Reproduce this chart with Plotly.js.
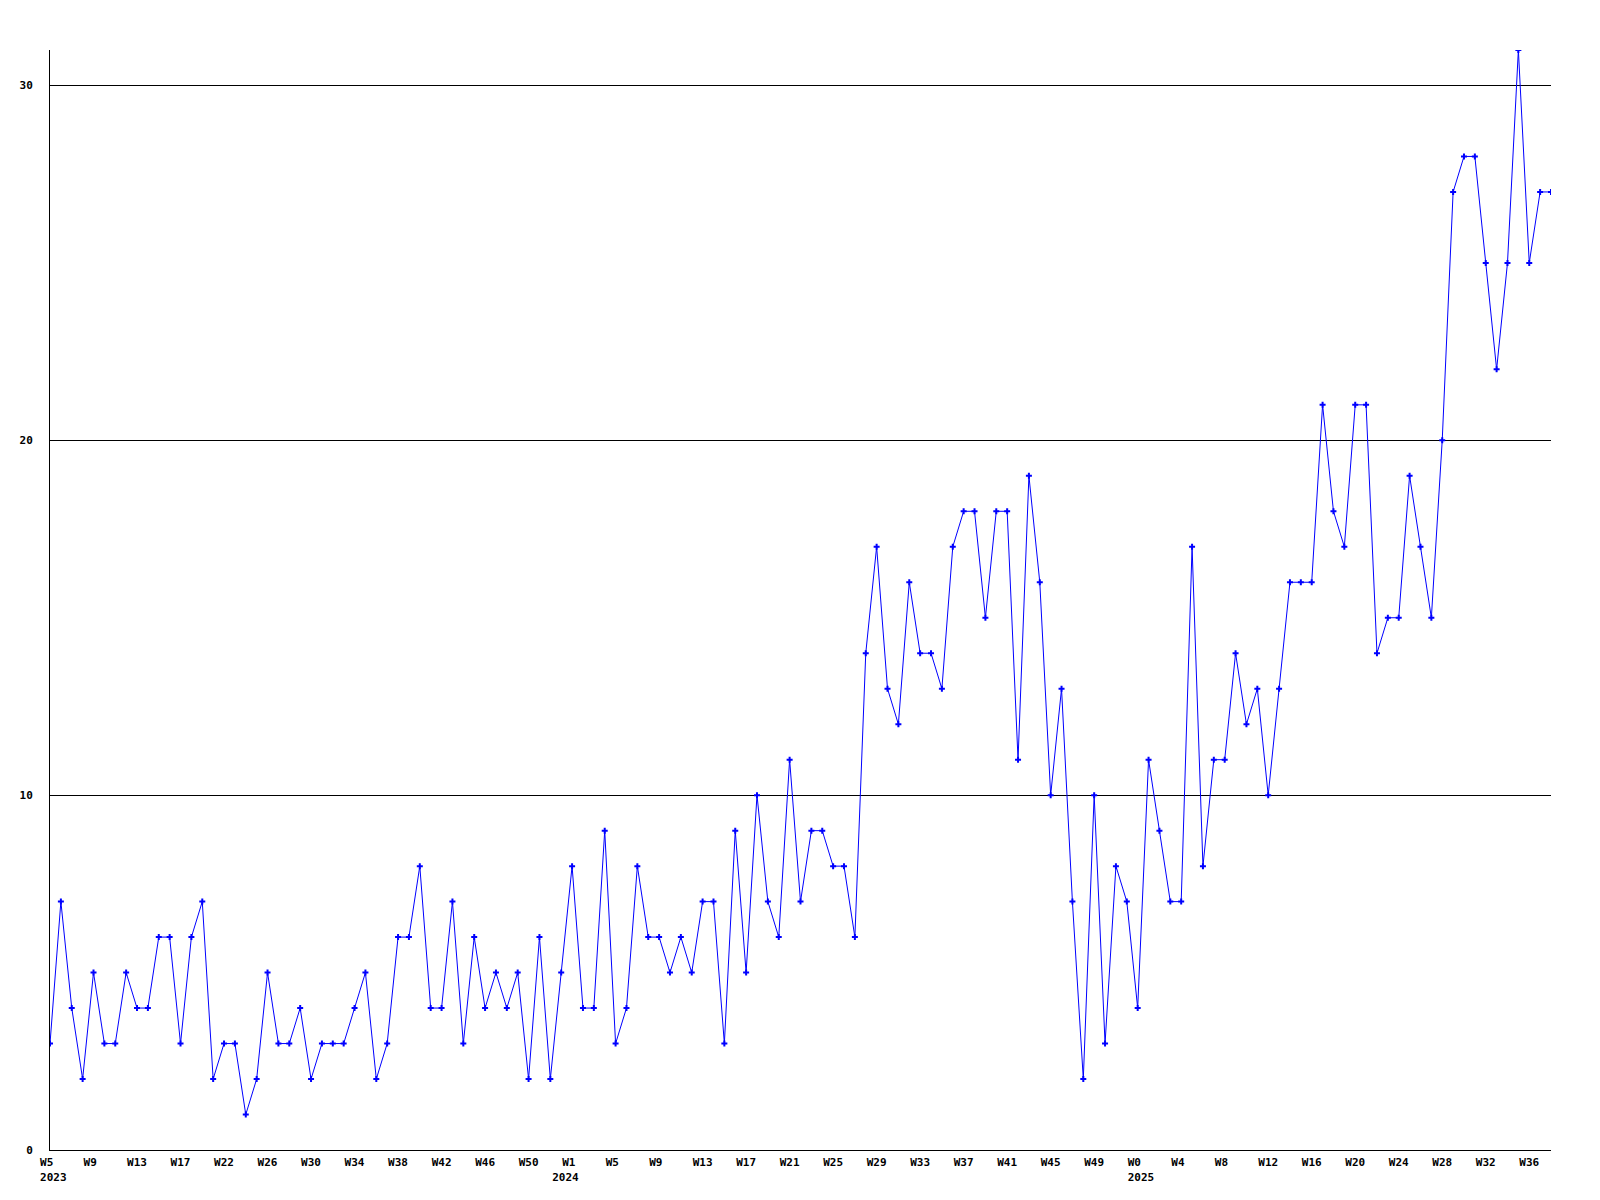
<!DOCTYPE html>
<html>
<head>
<meta charset="utf-8">
<script src="https://cdn.plot.ly/plotly-3.0.1.min.js"></script>
<style>
html,body{margin:0;padding:0;background:#fff;}
#chart{width:1600px;height:1200px;}
</style>
</head>
<body>
<div id="chart"></div>
<script>
// Weekly counts, one per week, from 2023 W5 to 2025 W38
const weeklyValues = [
  3,7,4,2,5,3,3,5,4,4,
  6,6,3,6,7,2,3,3,1,2,
  5,3,3,4,2,3,3,3,4,5,
  2,3,6,6,8,4,4,7,3,6,
  4,5,4,5,2,6,2,5,8,4,
  4,9,3,4,8,6,6,5,6,5,
  7,7,3,9,5,10,7,6,11,7,
  9,9,8,8,6,14,17,13,12,16,
  14,14,13,17,18,18,15,18,18,11,
  19,16,10,13,7,2,10,3,8,7,
  4,11,9,7,7,17,8,11,11,14,
  12,13,10,13,16,16,16,21,18,17,
  21,21,14,15,15,19,17,15,20,27,
  28,28,25,22,25,31,25,27,27
];

// Tick labels, one every 4 weeks
const tickWeeks = [
  "W5","W9","W13","W17","W22","W26","W30","W34","W38","W42","W46","W50",
  "W1","W5","W9","W13","W17","W21","W25","W29","W33","W37","W41","W45","W49",
  "W0","W4","W8","W12","W16","W20","W24","W28","W32","W36"
];
const tickYears = [
  "2023","","","","","","","","","","","",
  "2024","","","","","","","","","","","","",
  "2025","","","","","","","","",""
];
const yTicks = [0, 10, 20, 30];

const tickStep = 4;
const NB = "\u00a0";
const xIdx = weeklyValues.map((_, i) => i);
const tickvals = tickWeeks.map((_, i) => i * tickStep);
// labels are left-aligned in the original: pad with non-breaking spaces (monospace font)
const padWeek = w => w.length < 3 ? w + NB.repeat(3 - w.length) : w;
const padYear = y => (y === "2024") ? (y + NB + NB) : (NB + y);
const ticktext = tickWeeks.map((w, i) =>
  tickYears[i] ? (padWeek(w) + "<br>" + padYear(tickYears[i])) : padWeek(w));

const font = {family: "DejaVu Sans Mono, monospace", size: 11, color: "#000", weight: "bold"};

const trace = {
  x: xIdx,
  y: weeklyValues,
  type: "scatter",
  mode: "lines+markers",
  line: {color: "#0000FF", width: 1},
  marker: {symbol: "cross", size: 5, color: "#0000FF"},
  hoverinfo: "skip"
};

const layout = {
  width: 1600,
  height: 1200,
  margin: {l: 50, r: 49, t: 50, b: 50},
  paper_bgcolor: "#fff",
  plot_bgcolor: "#fff",
  showlegend: false,
  font: font,
  xaxis: {
    range: [0, weeklyValues.length - 1],
    showgrid: false,
    zeroline: false,
    showline: true,
    linecolor: "#000",
    linewidth: 1,
    ticks: "",
    tickmode: "array",
    tickvals: tickvals,
    ticktext: ticktext,
    tickfont: font,
    ticklabelstandoff: 2,
    fixedrange: true
  },
  yaxis: {
    range: [0, 31],
    showgrid: true,
    gridcolor: "#000",
    gridwidth: 1,
    zeroline: false,
    showline: true,
    linecolor: "#000",
    linewidth: 1,
    ticks: "",
    tickmode: "array",
    tickvals: yTicks,
    ticktext: yTicks.map(String),
    tickfont: font,
    ticklabelstandoff: 14,
    fixedrange: true
  }
};

Plotly.newPlot("chart", [trace], layout, {displayModeBar: false, staticPlot: true});
</script>
</body>
</html>
